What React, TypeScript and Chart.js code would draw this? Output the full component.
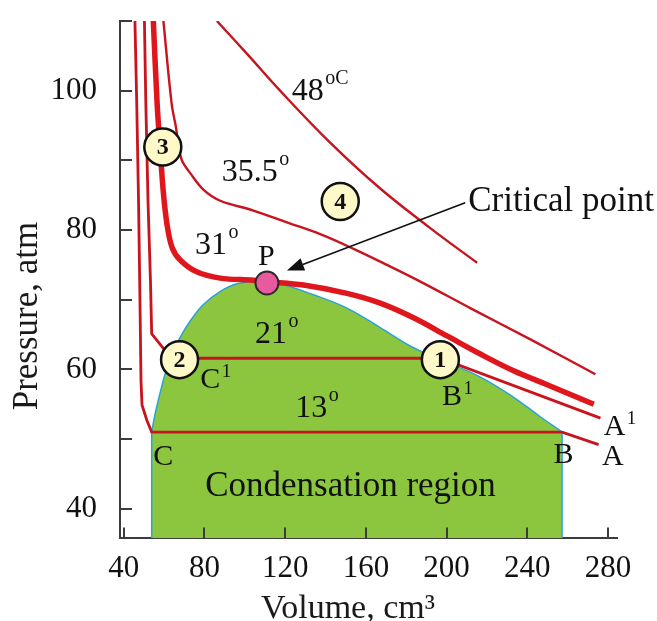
import React, { useEffect, useRef } from 'react';
import { Chart, registerables } from 'chart.js';

Chart.register(...registerables);

const FONT = '"Liberation Serif", "Times New Roman", serif';

// ---- axes ----
const xRange = [38.2, 284.4];
const yRange = [35.8, 110];
const xTicks = [40, 80, 120, 160, 200, 240, 280];
const yTicks = [40, 50, 60, 70, 80, 90, 100, 110];
const yLabelled = [40, 60, 80, 100];

// ---- isotherms (volume cm3, pressure atm) ----
const iso13: [number, number][] = [
  [45.6, 110], [46.5, 98.1], [47.4, 83.9], [48.1, 69.7], [48.6, 58.4], [49.1, 54.9],
  [51.5, 52.7], [53.9, 51.0], [257.2, 51.0], [275.3, 49.2],
];
const iso21: [number, number][] = [
  [50.3, 110], [51.0, 98.1], [52.1, 83.9], [53.3, 72.6], [53.9, 65.1], [59.7, 63.0],
  [67.7, 61.6], [196.9, 61.6], [276.2, 53.0],
];
const iso31: [number, number][] = [
  [54.7, 110], [56.6, 98.1], [58.0, 92.0], [59.7, 85.3], [61.5, 80.8], [64.0, 77.5],
  [68.0, 75.7], [76.2, 74.0], [87.8, 73.1], [104.3, 72.8], [110.9, 72.6], [129.1, 72.1],
  [150.6, 70.9], [167.1, 69.5], [183.6, 67.4], [200.2, 64.8], [216.7, 62.2], [233.2, 59.8],
  [249.8, 57.8], [272.9, 55.0],
];
const iso35: [number, number][] = [
  [59.7, 110], [63.8, 98.1], [66.0, 94.6], [67.2, 92.0], [69.0, 89.9], [72.9, 88.2],
  [79.5, 85.8], [87.9, 84.2], [104.3, 82.8], [120.9, 81.1], [137.4, 79.4], [153.9, 77.3],
  [170.4, 75.0], [187.0, 72.6], [211.7, 68.8], [241.5, 64.3], [273.7, 59.3],
];
const iso48: [number, number][] = [
  [86.2, 110], [101.7, 105.1], [117.5, 100.0], [142.3, 92.55], [167.1, 85.96],
  [191.9, 80.28], [215.1, 75.3],
];

// ---- condensation region boundary ----
const dome: [number, number][] = [
  [53.9, 51.0], [55.5, 53.5], [57.2, 55.6], [60.5, 59.3], [64.0, 62.2], [68.0, 64.6],
  [72.9, 66.9], [79.5, 69.3], [87.9, 71.2], [96.1, 72.3], [106.6, 72.7], [117.5, 72.3],
  [134.1, 70.7], [150.6, 68.8], [167.1, 66.0], [183.6, 63.1], [196.9, 61.4], [216.7, 58.9],
  [233.2, 56.0], [246.4, 53.2], [257.2, 51.0],
];
const domeEdgeC: [number, number][] = [[53.9, 35.8], [53.9, 51.0]];
const domeEdgeB: [number, number][] = [[257.2, 35.8], [257.2, 51.0]];

// ---- marked states ----
const stateCircles: [number, number][] = [[196.9, 61.4], [67.7, 61.4], [59.4, 91.9], [147.3, 84.1]];
const stateNumbers = ['1', '2', '3', '4'];
const criticalPoint: [number, number][] = [[111.0, 72.4]];

// ---- annotations: [text, superscript, volume, pressure, kind] ----
const labels: [string, string, number, number, string][] = [
  ['48', 'oC', 123.3, 98.6, 'num'],
  ['35.5', 'o', 88.6, 87.0, 'num'],
  ['31', 'o', 75.4, 76.6, 'num'],
  ['21', 'o', 105.1, 63.8, 'num'],
  ['13', 'o', 125.0, 53.2, 'num'],
  ['P', '', 106.6, 75.0, 'let'],
  ['C', '1', 77.9, 57.3, 'let'],
  ['B', '1', 197.7, 54.9, 'let'],
  ['A', '1', 277.8, 50.6, 'let'],
  ['A', '', 277.0, 46.3, 'let'],
  ['B', '', 253.0, 46.6, 'let'],
  ['C', '', 54.7, 46.3, 'let'],
  ['Condensation region', '', 80.4, 41.8, 'word'],
  ['Critical point', '', 210.7, 82.75, 'word'],
];
const arrowFrom: [number, number] = [209.2, 83.9];
const arrowTo: [number, number] = [120.9, 74.2];

const toXY = (a: [number, number][]) => a.map(([x, y]) => ({ x, y }));

const RED = '#c8141e';
const RED_THICK = '#e0161d';

export default function App() {
  const ref = useRef<HTMLCanvasElement | null>(null);

  useEffect(() => {
    const canvas = ref.current;
    if (!canvas) return;

    const annot = {
      id: 'annot',
      afterDatasetsDraw(chart: any) {
        const { ctx, scales } = chart;
        const xs = scales.x, ys = scales.y;
        const px = (v: number) => xs.getPixelForValue(v);
        const py = (v: number) => ys.getPixelForValue(v);
        ctx.save();
        ctx.fillStyle = '#111';
        ctx.font = `bold 24px ${FONT}`;
        ctx.textAlign = 'center';
        ctx.textBaseline = 'middle';
        stateCircles.forEach(([v, p], i) => {
          ctx.fillText(stateNumbers[i], px(v), py(p) + 1);
        });
        ctx.textAlign = 'left';
        ctx.textBaseline = 'alphabetic';
        labels.forEach(([t, sup, v, p, kind]) => {
          const size = kind === 'num' ? 32 : kind === 'let' ? 30 : 35;
          const x = px(v), y = py(p);
          ctx.font = `${size}px ${FONT}`;
          ctx.fillText(t, x, y);
          if (sup) {
            const w = ctx.measureText(t).width;
            const isDeg = sup.startsWith('o');
            ctx.font = `${isDeg ? 20 : 19}px ${FONT}`;
            ctx.fillText(sup, x + w + 1.5, y - (isDeg ? 16 : 11));
          }
        });
        const x1 = px(arrowFrom[0]), y1 = py(arrowFrom[1]);
        const x2 = px(arrowTo[0]), y2 = py(arrowTo[1]);
        const ang = Math.atan2(y2 - y1, x2 - x1);
        const L = 17, W = 6.5;
        const bx = x2 - L * Math.cos(ang), by = y2 - L * Math.sin(ang);
        ctx.strokeStyle = '#111';
        ctx.lineWidth = 1.6;
        ctx.beginPath();
        ctx.moveTo(x1, y1);
        ctx.lineTo(bx, by);
        ctx.stroke();
        ctx.beginPath();
        ctx.moveTo(x2, y2);
        ctx.lineTo(bx + W * Math.sin(ang), by - W * Math.cos(ang));
        ctx.lineTo(bx - W * Math.sin(ang), by + W * Math.cos(ang));
        ctx.closePath();
        ctx.fill();
        ctx.restore();
      },
      afterDraw(chart: any) {
        const { ctx, scales, chartArea } = chart;
        const xs = scales.x, ys = scales.y;
        ctx.save();
        ctx.strokeStyle = '#3c3c3c';
        ctx.lineWidth = 2;
        ctx.beginPath();
        xTicks.forEach((v) => {
          const x = Math.round(xs.getPixelForValue(v));
          ctx.moveTo(x, chartArea.bottom);
          ctx.lineTo(x, chartArea.bottom - 10.5);
        });
        yTicks.forEach((v) => {
          const y = Math.round(ys.getPixelForValue(v));
          ctx.moveTo(chartArea.left, y);
          ctx.lineTo(chartArea.left + 12, y);
        });
        ctx.stroke();
        ctx.fillStyle = '#1a1a1a';
        ctx.font = `35px ${FONT}`;
        ctx.textAlign = 'center';
        ctx.textBaseline = 'alphabetic';
        ctx.save();
        ctx.translate(37, 316);
        ctx.rotate(-Math.PI / 2);
        ctx.fillText('Pressure, atm', 0, 0);
        ctx.restore();
        ctx.font = `34px ${FONT}`;
        ctx.fillText('Volume, cm³', 348, 618);
        ctx.restore();
      },
    };

    const lineDs = (data: [number, number][], color: string, width: number, tension: number, order: number) => ({
      data: toXY(data),
      borderColor: color,
      borderWidth: width,
      tension,
      pointRadius: 0,
      pointHoverRadius: 0,
      fill: false,
      order,
    });

    const chart = new Chart(canvas, {
      type: 'line',
      data: {
        datasets: [
          {
            data: toXY(dome),
            borderColor: '#2aa3d8',
            borderWidth: 1.5,
            backgroundColor: '#8cc63f',
            fill: 'start',
            tension: 0.4,
            pointRadius: 0,
            order: 10,
          } as any,
          lineDs(domeEdgeC, '#2aa3d8', 1.5, 0, 9),
          lineDs(domeEdgeB, '#2aa3d8', 1.5, 0, 9),
          lineDs(iso13, RED, 2.8, 0, 5),
          lineDs(iso21, RED, 2.8, 0, 5),
          lineDs(iso35, RED, 2.4, 0.35, 5),
          lineDs(iso48, RED, 2.4, 0.4, 5),
          lineDs(iso31, RED_THICK, 5.5, 0.35, 4),
          {
            data: toXY(stateCircles),
            showLine: false,
            pointRadius: 18.5,
            pointBackgroundColor: '#fff8c8',
            pointBorderColor: '#111',
            pointBorderWidth: 2.5,
            order: 1,
          } as any,
          {
            data: toXY(criticalPoint),
            showLine: false,
            pointRadius: 11.5,
            pointBackgroundColor: '#e85aa0',
            pointBorderColor: '#2a2a2a',
            pointBorderWidth: 2,
            order: 0,
          } as any,
        ],
      },
      options: {
        responsive: false,
        animation: false,
        events: [],
        layout: { padding: { left: 0, top: 17, right: 40, bottom: 0 } },
        plugins: { legend: { display: false }, tooltip: { enabled: false } },
        scales: {
          x: {
            type: 'linear',
            min: xRange[0],
            max: xRange[1],
            afterBuildTicks: (s: any) => { s.ticks = xTicks.map((v) => ({ value: v })); },
            afterFit: (s: any) => { s.height = 83; s.paddingLeft = 0; s.paddingRight = 0; s.paddingTop = 0; s.paddingBottom = 0; },
            grid: { display: true, drawOnChartArea: false, drawTicks: false },
            border: { display: true, color: '#3c3c3c', width: 2 },
            ticks: {
              color: '#111',
              padding: 15.5,
              maxRotation: 0,
              font: { family: FONT, size: 31, lineHeight: 1 },
            },
          },
          y: {
            type: 'linear',
            min: yRange[0],
            max: yRange[1],
            afterBuildTicks: (s: any) => { s.ticks = yTicks.map((v) => ({ value: v })); },
            afterFit: (s: any) => { s.width = 120; s.paddingLeft = 0; s.paddingRight = 0; s.paddingTop = 0; s.paddingBottom = 0; },
            grid: { display: true, drawOnChartArea: false, drawTicks: false },
            border: { display: true, color: '#3c3c3c', width: 2 },
            ticks: {
              color: '#111',
              padding: 23,
              font: { family: FONT, size: 31, lineHeight: 1 },
              callback: (v: any) => (yLabelled.includes(Number(v)) ? String(v) : null),
            },
          },
        },
      } as any,
      plugins: [annot],
    });

    return () => chart.destroy();
  }, []);

  return (
    <div style={{ position: 'absolute', left: 0, top: 0, width: 657, height: 621, background: '#fff' }}>
      <canvas ref={ref} width={657} height={621} style={{ display: 'block' }} />
    </div>
  );
}
